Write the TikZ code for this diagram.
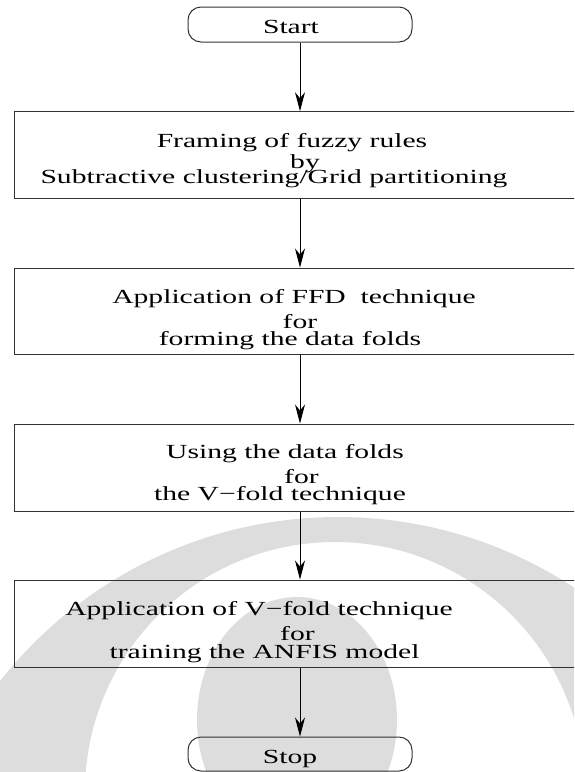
\documentclass[tikz,border=0pt]{standalone}
\usepackage{fontspec}
\setmainfont{Liberation Serif}[FakeStretch=1.48]
\usetikzlibrary{arrows.meta}
\definecolor{wm}{RGB}{221,221,221}
\definecolor{edge}{RGB}{50,50,50}
\tikzset{
  stepbox/.style={draw=edge, line width=1pt, rectangle, minimum width=572pt, inner sep=0pt},
  termbox/.style={draw=edge, line width=1pt, rectangle, rounded corners=13pt, minimum width=224pt, inner sep=0pt},
  txt/.style={anchor=base, inner sep=0pt, font=\fontsize{20}{24}\selectfont},
  arr/.style={draw=black, line width=1pt, -{Stealth[length=19pt, width=10pt, inset=6pt]}}
}
\begin{document}
\begin{tikzpicture}[x=1pt, y=-1pt]
\useasboundingbox (0,0) rectangle (574,772);
\clip (0,0) rectangle (574,772);
% faint background emblem
\fill[wm, even odd rule] (338,947) circle[radius=430pt] (335,792) circle[radius=250pt];
\fill[wm] (297,720) ellipse[x radius=100pt, y radius=123pt];

% terminals and process boxes
\node[termbox, minimum height=35pt] (start) at (300,24.5) {};
\node[stepbox, minimum height=86.3pt] (b1) at (300,154.85) {};
\node[stepbox, minimum height=86.5pt] (b2) at (300,311.25) {};
\node[stepbox, minimum height=87pt] (b3) at (300,467.5) {};
\node[stepbox, minimum height=87pt] (b4) at (300,623.5) {};
\node[termbox, minimum height=34pt] (stop) at (300,754) {};

% labels
\node[txt] (tstart) at (291,33) {Start};
\node[txt] (t1a) at (292,147) {Framing of fuzzy rules};
\node[txt] (t1b) at (305,168) {by};
\node[txt] (t1c) at (274,183) {Subtractive clustering/Grid partitioning};
\node[txt] (t2a) at (294,303) {Application of FFD\ \ technique};
\node[txt] (t2b) at (300,328) {for};
\node[txt] (t2c) at (290,345) {forming the data folds};
\node[txt] (t3a) at (285,458) {Using the data folds};
\node[txt] (t3b) at (301.5,483) {for};
\node[txt] (t3c) at (280,500) {the V−fold technique};
\node[txt] (t4a) at (259,615) {Application of V−fold technique};
\node[txt] (t4b) at (297.5,640) {for};
\node[txt] (t4c) at (264.5,658) {training the ANFIS model};
\node[txt] (tstop) at (290,763) {Stop};

% flow
\draw[arr] (start) -- (b1);
\draw[arr] (b1) -- (b2);
\draw[arr] (b2) -- (b3);
\draw[arr] (b3) -- (b4);
\draw[arr] (b4) -- (stop);
\end{tikzpicture}
\end{document}
